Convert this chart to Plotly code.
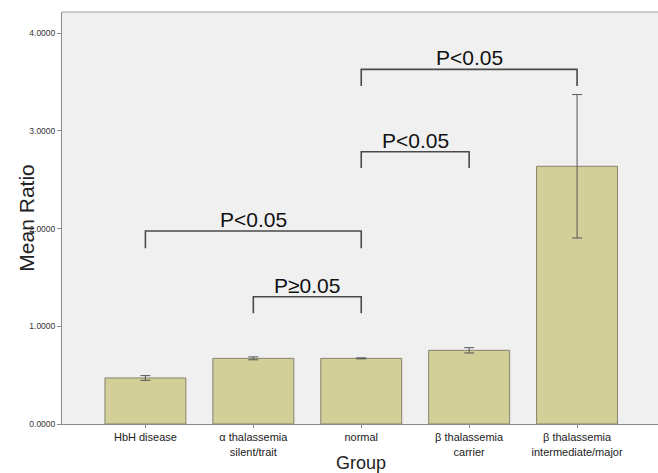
import plotly.graph_objects as go

# Group means with error bar half-widths
groups = ["HbH disease", "α thalassemia<br>silent/trait", "normal",
          "β thalassemia<br>carrier", "β thalassemia<br>intermediate/major"]
means = [0.471, 0.672, 0.672, 0.754, 2.638]
errors = [0.024, 0.015, 0.005, 0.027, 0.734]
y_ticks = [0, 1, 2, 3, 4]

# Significance brackets: (from group, to group, bar level, leg end, label)
brackets = [
    (2, 4, 3.63, 3.46, "P<0.05"),
    (2, 3, 2.787, 2.62, "P<0.05"),
    (0, 2, 1.975, 1.80, "P<0.05"),
    (1, 2, 1.303, 1.133, "P≥0.05"),
]

x_pos = list(range(len(groups)))
font = "Liberation Sans, Arial, sans-serif"

fig = go.Figure()
fig.add_trace(go.Bar(
    x=x_pos, y=means, width=0.75,
    marker=dict(color="#d3cf98", line=dict(color="#85846c", width=1)),
    error_y=dict(type="data", array=errors, visible=True,
                 color="#555555", thickness=1, width=5),
    showlegend=False,
))

shapes = []
annotations = []
for a, b, top, leg, label in brackets:
    shapes.append(dict(type="path", xref="x", yref="y",
                       path=f"M {a},{leg} L {a},{top} L {b},{top} L {b},{leg}",
                       line=dict(color="#4a4a4a", width=1.6)))
    annotations.append(dict(x=(a + b) / 2, y=top, xref="x", yref="y",
                            text=label, showarrow=False, yanchor="bottom",
                            yshift=-2,
                            font=dict(family=font, size=21, color="#111111")))

# frame line along the top of the plot area
shapes.append(dict(type="line", xref="paper", yref="paper", x0=0, x1=1, y0=1, y1=1,
                   line=dict(color="#9a9a9a", width=1)))

annotations.append(dict(x=-0.061, y=0.5, xref="paper", yref="paper",
                        text="Mean Ratio", textangle=-90, showarrow=False,
                        xanchor="center", yanchor="middle",
                        font=dict(family=font, size=21, color="#222222")))
annotations.append(dict(x=0.502, y=-0.066, xref="paper", yref="paper",
                        text="Group", showarrow=False,
                        xanchor="center", yanchor="top",
                        font=dict(family=font, size=18, color="#222222")))

fig.update_layout(
    width=658, height=473,
    margin=dict(l=62, r=0, t=12, b=49),
    paper_bgcolor="white", plot_bgcolor="#f0f0f0",
    shapes=shapes, annotations=annotations,
    bargap=0.25,
)
fig.update_xaxes(
    range=[-0.773, 4.75], tickvals=x_pos, ticktext=groups,
    showline=True, linecolor="#8a8a8a", linewidth=1,
    ticks="outside", ticklen=3, tickcolor="#8a8a8a",
    showgrid=False, zeroline=False,
    tickfont=dict(family=font, size=11, color="#222222"),
)
fig.update_yaxes(
    range=[0, 4.217], tickvals=y_ticks, tickformat=".4f",
    showline=True, linecolor="#8a8a8a", linewidth=1,
    ticks="outside", ticklen=4, tickcolor="#8a8a8a",
    showgrid=False, zeroline=False,
    tickfont=dict(family=font, size=8.5, color="#333333"),
)

fig.write_html("out.html")
